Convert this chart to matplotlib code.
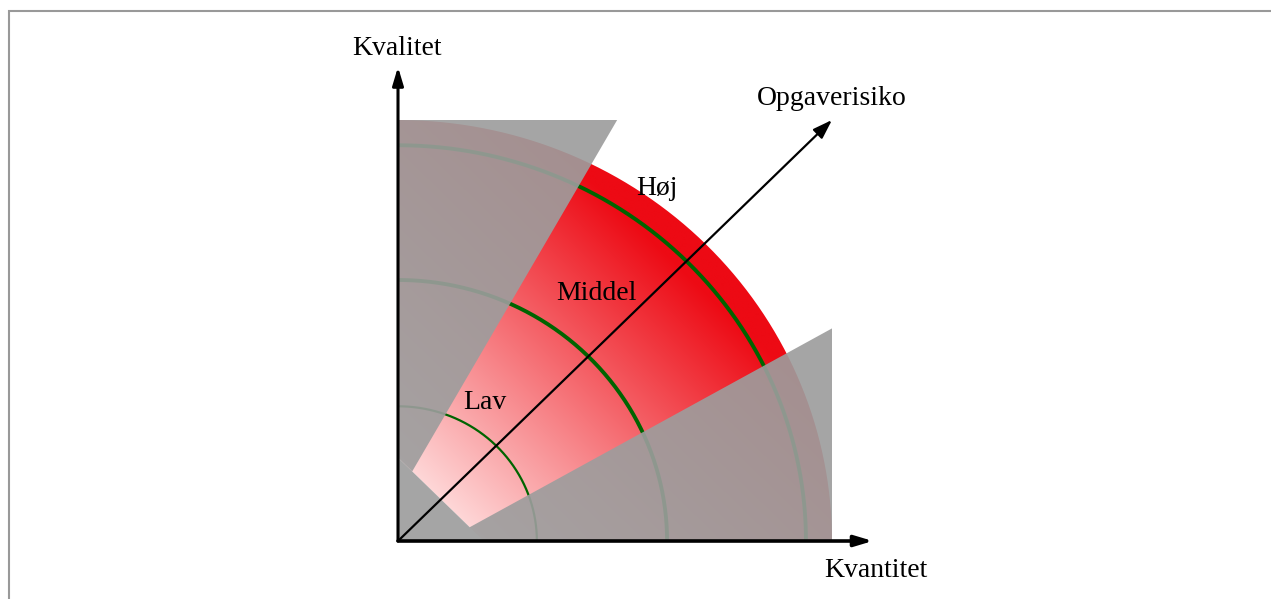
import numpy as np
import matplotlib
matplotlib.use("Agg")
import matplotlib.pyplot as plt
from matplotlib.path import Path
from matplotlib.patches import PathPatch, Polygon, Rectangle

plt.rcParams['font.family'] = ['Liberation Serif', 'DejaVu Serif']

# risk diagram geometry (data units: disc radius = 1)
disc_radius = 1.0
ring_radii = [0.32, 0.62, 0.94]
ring_widths = [1.6, 2.8, 2.8]
wedge_apex = -0.14          # wedge lines meet at (apex, apex)
wedge_angles = [29.5, 60.5]  # degrees, lower and upper wedge edge
corner_cut = 0.198           # x + y < cut is left out of the red wedge
axis_ends = [1.094, 1.126]   # x-axis and y-axis arrow tips
risk_end = [1.0, 1.0]        # Opgaverisiko arrow tip

axis_labels = ["Kvantitet", "Kvalitet", "Opgaverisiko"]
axis_label_pos = [(1.100, -0.071), (-0.002, 1.171), (0.999, 1.052)]
level_labels = ["Lav", "Middel", "Høj"]
level_label_pos = [(0.200, 0.328), (0.456, 0.589), (0.597, 0.838)]

light_red = np.array([255, 225, 225]) / 255
full_red = np.array([237, 10, 20]) / 255
shade_grey = (157 / 255, 157 / 255, 157 / 255)
shade_alpha = 0.915
ring_green = "#006400"

W, H = 1271, 599
fig = plt.figure(figsize=(W / 100, H / 100), dpi=100)
ax = fig.add_axes([0, 0, 1, 1])
ox, oy = 398, 541           # origin in pixels
ux, uy = 434, 421           # pixels per data unit
ax.set_xlim(-ox / ux, (W - ox) / ux)
ax.set_ylim(-(H - oy) / uy, oy / uy)
ax.axis("off")

# red gradient on the quarter disc (minus the small corner)
n = 500
xs = np.linspace(0, disc_radius, n)
X, Y = np.meshgrid(xs, xs)
s = (X + Y) / np.sqrt(2)
t = np.clip((s - 0.1) / 0.82, 0, 1)[..., None]
img = light_red * (1 - t) + full_red * t
im = ax.imshow(img, extent=[0, disc_radius, 0, disc_radius], origin="lower",
               aspect="auto", interpolation="bilinear", zorder=1)
th = np.linspace(0, np.pi / 2, 200)
clip_pts = [(corner_cut, 0)] + [(disc_radius * np.cos(a), disc_radius * np.sin(a)) for a in th]
clip_pts += [(0, corner_cut), (corner_cut, 0)]
clip_patch = PathPatch(Path(clip_pts), transform=ax.transData, facecolor="none", edgecolor="none")
ax.add_patch(clip_patch)
im.set_clip_path(clip_patch)

# rings
for r, lw in zip(ring_radii, ring_widths):
    ax.plot(r * np.cos(th), r * np.sin(th), color=ring_green, lw=lw, zorder=2,
            solid_capstyle="butt")

# grey shading outside the wedge
def line_point(angle_deg, x=None, y=None, xy_sum=None):
    a = np.radians(angle_deg)
    c, sn = np.cos(a), np.sin(a)
    if x is not None:
        k = (x - wedge_apex) / c
    elif y is not None:
        k = (y - wedge_apex) / sn
    else:
        k = (xy_sum - 2 * wedge_apex) / (c + sn)
    return (wedge_apex + k * c, wedge_apex + k * sn)

lo, hi = wedge_angles
top = line_point(hi, y=disc_radius)
tip_hi = line_point(hi, xy_sum=corner_cut)
tip_lo = line_point(lo, xy_sum=corner_cut)
right = line_point(lo, x=disc_radius)
poly_a = [(0, disc_radius), top, tip_hi, (0, corner_cut)]
poly_b = [(0, 0), (0, corner_cut), tip_lo, right, (disc_radius, 0)]
for pts in (poly_a, poly_b):
    ax.add_patch(Polygon(pts, closed=True, facecolor=shade_grey, edgecolor="none",
                         alpha=shade_alpha, zorder=3))

# axes arrows
axis_style = "-|>,head_length=0.6,head_width=0.18"
ax.annotate("", xy=(axis_ends[0], 0), xytext=(0, 0),
            arrowprops=dict(arrowstyle=axis_style, lw=2.6, color="black",
                            shrinkA=0, shrinkB=0, mutation_scale=18), zorder=4)
ax.annotate("", xy=(0, axis_ends[1]), xytext=(0, 0),
            arrowprops=dict(arrowstyle=axis_style, lw=2.2, color="black",
                            shrinkA=0, shrinkB=0, mutation_scale=18), zorder=4)
ax.annotate("", xy=tuple(risk_end), xytext=(0, 0),
            arrowprops=dict(arrowstyle="-|>,head_length=0.65,head_width=0.22", lw=1.6,
                            color="black", shrinkA=0, shrinkB=0, mutation_scale=18), zorder=4)

for lab, (x, y) in zip(axis_labels + level_labels, axis_label_pos + level_label_pos):
    ax.text(x, y, lab, fontsize=20, ha="center", va="center", color="black", zorder=5)

# thin grey frame (top and left edges visible)
fig.add_artist(Rectangle((9 / W, -0.1), 1.2, 1 - 11 / H + 0.1, transform=fig.transFigure,
                         fill=False, edgecolor="#999999", lw=1.5))

fig.savefig("out.png", dpi=100)
